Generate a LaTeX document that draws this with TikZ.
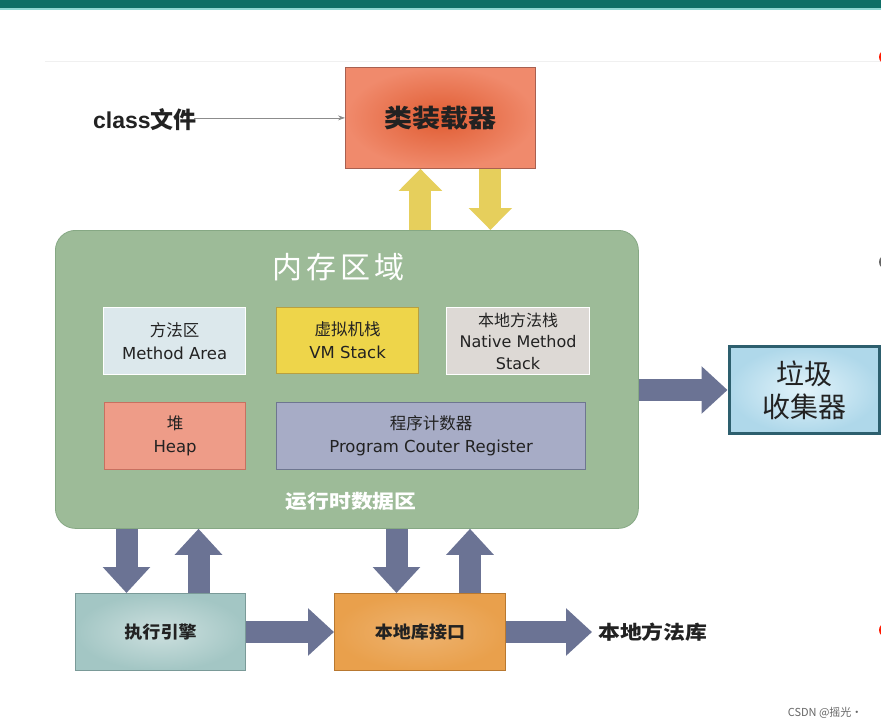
\documentclass[tikz,border=0pt]{standalone}
\usepackage{fontspec}
\setmainfont{Noto Sans CJK SC}
\newfontfamily\latfont{DejaVu Sans}
\newfontfamily\clsfont{Liberation Sans}
\usetikzlibrary{arrows.meta,calc}
\newcommand\mywide[2][1.15]{\scalebox{#1}[1]{#2}}
\definecolor{topbar}{HTML}{0E6E66}
\definecolor{topline}{HTML}{8FD6D2}
\definecolor{memfill}{HTML}{9DBB98}
\definecolor{memdraw}{HTML}{86A884}
\definecolor{grayarrow}{HTML}{6B7394}
\definecolor{yelarrow}{HTML}{E6CF5C}
\definecolor{clinner}{HTML}{E05C32}
\definecolor{clouter}{HTML}{F08A6C}
\definecolor{cldraw}{HTML}{A86050}
\definecolor{mafill}{HTML}{DCE8EC}
\definecolor{vmfill}{HTML}{EED54A}
\definecolor{vmdraw}{HTML}{B8A040}
\definecolor{nsfill}{HTML}{DDD9D5}
\definecolor{heapfill}{HTML}{EE9C88}
\definecolor{heapdraw}{HTML}{C87060}
\definecolor{pcfill}{HTML}{A7ACC6}
\definecolor{pcdraw}{HTML}{6E7690}
\definecolor{gcinner}{HTML}{E2F3FA}
\definecolor{gcouter}{HTML}{AFD8EA}
\definecolor{gcdraw}{HTML}{2D5F6E}
\definecolor{exfill}{HTML}{A3C6C4}
\definecolor{exdraw}{HTML}{7A9A98}
\definecolor{nlfill}{HTML}{E9A04C}
\definecolor{nldraw}{HTML}{B87830}
\definecolor{txt}{HTML}{222222}
\tikzset{
  inbox/.style={anchor=north west, inner sep=0pt, align=center, text=txt, font=\fontsize{16.5}{23}\selectfont, line width=1.2pt},
  bigbox/.style={anchor=north west, inner sep=0pt, align=center, text=txt},
  garrow/.style={draw=grayarrow, line width=22pt, -{Triangle[length=26pt,width=46pt]}},
  yarrow/.style={draw=yelarrow, line width=22pt, -{Triangle[length=22pt,width=42pt]}},
}
\begin{document}
\begin{tikzpicture}[x=1pt,y=-1pt]
\useasboundingbox (0,0) rectangle (881,728);
\fill[white] (0,0) rectangle (881,728);
% screenshot decorations
\fill[topbar] (0,0) rectangle (881,8);
\fill[topline] (0,8) rectangle (881,10);
\draw[black!6, line width=0.8pt] (45,61) -- (881,61);
\fill[red!80!orange] (886,57) circle (7);
\fill[black!60] (886,262) circle (7);
\fill[red!80!orange] (886,630) circle (7);

% class loader
\node[bigbox, minimum width=190pt, minimum height=101pt, shade, inner color=clinner, outer color=clouter, draw=cldraw, line width=0.8pt, font=\bfseries\fontsize{25}{30}\selectfont] (cl) at (345,67) {\mywide[1.12]{类装载器}};
\node[anchor=west, inner sep=0pt, text=txt, font=\bfseries\fontsize{23}{26}\selectfont] (cf) at (93,120) {{\clsfont class}文件};
\draw[black!45, line width=0.8pt, -{Stealth[length=7pt,width=5pt]}] ([xshift=-3pt]cf.east |- cl.west) -- (cl.west);

% memory area
\node[bigbox, minimum width=583pt, minimum height=298pt, fill=memfill, draw=memdraw, line width=0.8pt, rounded corners=20pt] (mem) at (55,230) {};
\node[text=white, font=\fontsize{30}{34}\selectfont] (memt) at (338.5,267) {内\hspace{4pt}存\hspace{4pt}区\hspace{4pt}域};
\node[text=white, font=\bfseries\fontsize{19}{22}\selectfont] (rt) at (351,501) {\mywide{运行时数据区}};

\node[inbox, minimum width=142pt, minimum height=67pt, fill=mafill, draw=white] (ma) at (103,307) {方法区\\{\latfont Method Area}};
\node[inbox, minimum width=142pt, minimum height=66pt, fill=vmfill, draw=vmdraw] (vm) at (276,307) {虚拟机栈\\{\latfont VM Stack}};
\node[inbox, minimum width=143pt, minimum height=67pt, fill=nsfill, draw=white, font=\fontsize{16}{21.5}\selectfont] (ns) at (446,307) {本地方法栈\\{\latfont Native Method}\\{\latfont Stack}};
\node[inbox, minimum width=141pt, minimum height=67pt, fill=heapfill, draw=heapdraw] (heap) at (104,402) {堆\\{\latfont Heap}};
\node[inbox, minimum width=309pt, minimum height=67pt, fill=pcfill, draw=pcdraw] (pc) at (276,402) {程序计数器\\{\latfont Program Couter Register}};

% yellow arrows
\draw[yarrow] ([xshift=-20pt]cl.south |- mem.north) -- ([xshift=-20pt]cl.south);
\draw[yarrow] ([xshift=50pt]cl.south) -- ([xshift=50pt]cl.south |- mem.north);

% garbage collector
\node[bigbox, minimum width=150pt, minimum height=87pt, shade, inner color=gcinner, outer color=gcouter, draw=gcdraw, line width=3pt, font=\fontsize{28}{33}\selectfont] (gc) at (727.5,345) {垃圾\\收集器};
\draw[garrow] (mem.east |- gc.west) -- (gc.west);

% bottom boxes
\node[bigbox, minimum width=170pt, minimum height=77pt, shade, inner color=exfill!55!white, outer color=exfill, draw=exdraw, line width=1pt, font=\bfseries\fontsize{17}{20}\selectfont] (ex) at (75,593) {\mywide[1.06]{执行引擎}};
\node[bigbox, minimum width=171pt, minimum height=77pt, shade, inner color=nlfill!80!white, outer color=nlfill, draw=nldraw, line width=1pt, font=\bfseries\fontsize{17}{20}\selectfont] (nl) at (334,593) {\mywide[1.06]{本地库接口}};
\node[anchor=west, inner sep=0pt, text=txt, font=\bfseries\fontsize{19}{22}\selectfont] (lib) at (598,632) {\mywide{本地方法库}};

\draw[garrow] ([xshift=-34pt]ex.north |- mem.south) -- ([xshift=-34pt]ex.north);
\draw[garrow] ([xshift=38pt]ex.north) -- ([xshift=38pt]ex.north |- mem.south);
\draw[garrow] ([xshift=-23.5pt]nl.north |- mem.south) -- ([xshift=-23.5pt]nl.north);
\draw[garrow] ([xshift=50pt]nl.north) -- ([xshift=50pt]nl.north |- mem.south);
\draw[garrow] (ex.east) -- (nl.west);
\draw[garrow] (nl.east) -- ([xshift=-6pt]lib.west);

\node[anchor=east, text=black!60, font=\fontsize{11}{13}\selectfont] (wm) at (866,713) {CSDN @摇光·};
\end{tikzpicture}
\end{document}
